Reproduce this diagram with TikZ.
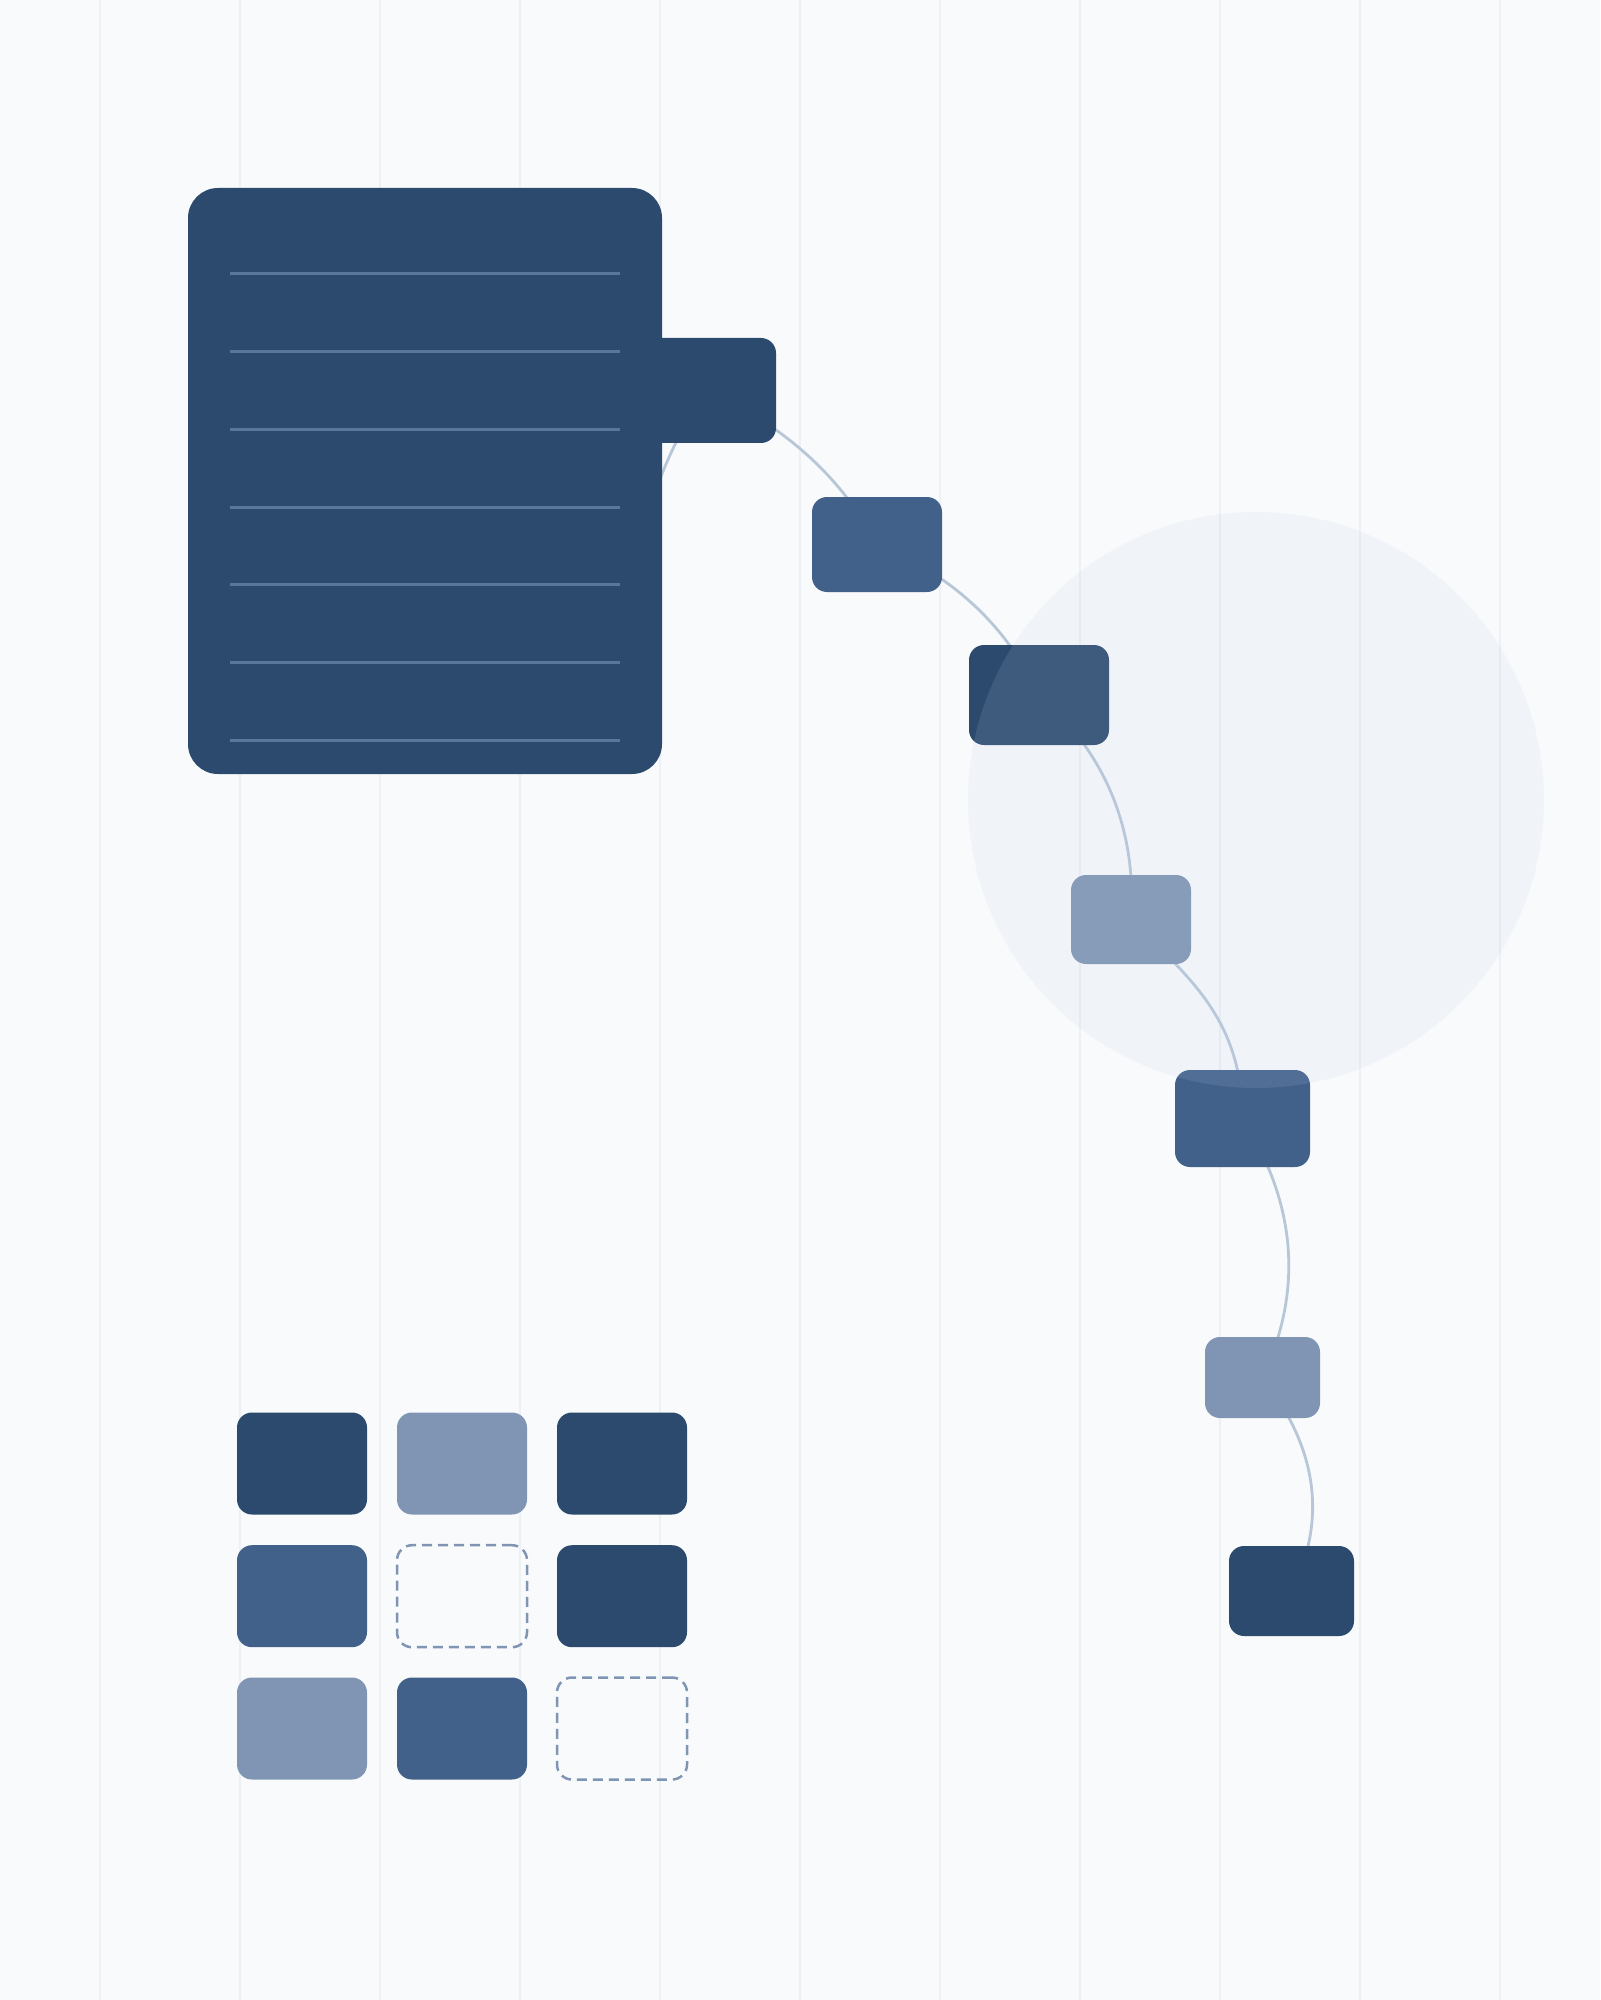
\documentclass[tikz,border=0pt]{standalone}
\usepackage{tikz}
\definecolor{bg}{HTML}{F8FAFC}
\definecolor{gridc}{HTML}{EDF0F4}
\definecolor{dark}{HTML}{2C4A6E}
\definecolor{mid}{HTML}{41618A}
\definecolor{light}{HTML}{7F95B3}
\definecolor{wire}{HTML}{B8C7D8}
\definecolor{rule}{HTML}{5A7698}
\definecolor{halo}{RGB}{190,205,232}
\begin{document}
\begin{tikzpicture}[x=0.5pt,y=-0.5pt,
  box/.style={rectangle, inner sep=0pt, outer sep=0pt, rounded corners=7.5pt, draw=none},
  cell/.style={box, minimum width=65pt, minimum height=51pt},
  emptycell/.style={cell, draw=light, line width=1.25pt, dash pattern=on 5pt off 3pt},
  wireline/.style={draw=wire, line width=1.4pt},
  gridline/.style={draw=gridc, line width=1pt},
  ruleline/.style={draw=rule, line width=1.5pt}]
% background and bounds
\fill[bg] (0,0) rectangle (1600,2000);
\useasboundingbox (0,0) rectangle (1600,2000);
% vertical grid
\foreach \i in {0,...,10} {
  \draw[gridline] (100+140*\i,0) -- (100+140*\i,2000);
}
% named points
\coordinate (c0) at (640,560);
\path node[box, minimum width=68pt, minimum height=52.5pt] (tab) at (708,390.5) {}
      node[box, minimum width=65pt, minimum height=47.5pt] (n2) at (877,544.5) {}
      node[box, minimum width=70pt, minimum height=50pt] (n3) at (1039,695) {}
      node[box, minimum width=60pt, minimum height=44.5pt] (n5) at (1131,919.5) {}
      node[box, minimum width=67.5pt, minimum height=48.5pt] (n4) at (1242.5,1118.5) {}
      node[box, minimum width=57.5pt, minimum height=40.5pt] (n6) at (1262.5,1377.5) {}
      node[box, minimum width=62.5pt, minimum height=45pt] (n7) at (1291.5,1591) {};
% connectors
\draw[wireline] (c0) .. controls (645,500) and (680,425) .. (tab.center);
\draw[wireline] (tab.center) .. controls (786,427) and (842,478) .. (n2.center);
\draw[wireline] (n2.center) .. controls (952,575) and (1006,625) .. (n3.center);
\draw[wireline] (n3.center) .. controls (1104,752) and (1137,827) .. (n5.center);
\draw[wireline] (n5.center) .. controls (1188,977) and (1242,1018) .. (n4.center);
\draw[wireline] (n4.center) .. controls (1297,1205) and (1303,1291) .. (n6.center);
\draw[wireline] (n6.center) .. controls (1318,1449) and (1327,1520) .. (n7.center);
% filled nodes on top of connectors
\fill[dark, rounded corners=7.5pt] (640,338) rectangle (776,443);
\node[box, fill=dark, minimum width=237pt, minimum height=293pt, rounded corners=15pt] (panel) at (425,481) {};
\foreach \k in {0,...,6} {
  \draw[ruleline] (230,274+77.67*\k) -- (620,274+77.67*\k);
}
\fill[mid, rounded corners=7.5pt] (n2.south west) rectangle (n2.north east);
\fill[dark, rounded corners=7.5pt] (n3.south west) rectangle (n3.north east);
\fill[light, rounded corners=7.5pt] (n5.south west) rectangle (n5.north east);
\fill[mid, rounded corners=7.5pt] (n4.south west) rectangle (n4.north east);
\fill[light, rounded corners=7.5pt] (n6.south west) rectangle (n6.north east);
\fill[dark, rounded corners=7.5pt] (n7.south west) rectangle (n7.north east);
% translucent halo over nodes
\node[circle, inner sep=0pt, minimum size=288pt, fill=halo, fill opacity=0.13] (haloc) at (1256,800) {};
% 3x3 grid of cells
\node[cell, fill=dark]  (g11) at (302,1463.5) {};
\node[cell, fill=light] (g12) at (462,1463.5) {};
\node[cell, fill=dark]  (g13) at (622,1463.5) {};
\node[cell, fill=mid]   (g21) at (302,1596.2) {};
\node[emptycell]        (g22) at (462,1596.2) {};
\node[cell, fill=dark]  (g23) at (622,1596.2) {};
\node[cell, fill=light] (g31) at (302,1728.5) {};
\node[cell, fill=mid]   (g32) at (462,1728.5) {};
\node[emptycell]        (g33) at (622,1728.5) {};
\end{tikzpicture}
\end{document}
